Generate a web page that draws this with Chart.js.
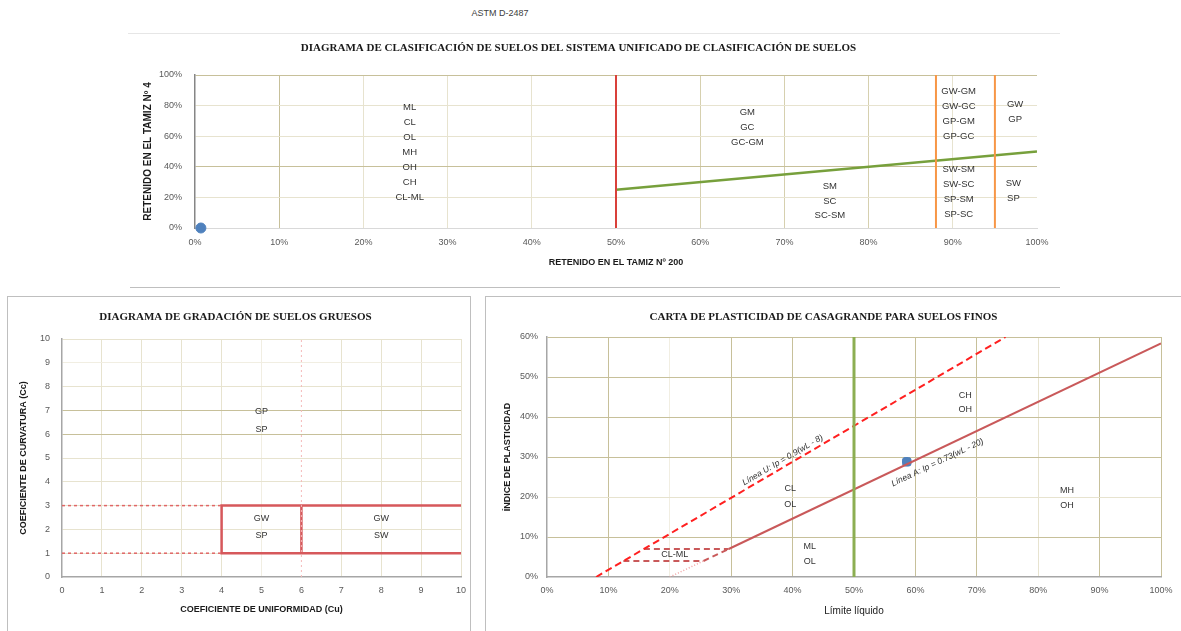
<!DOCTYPE html>
<html>
<head>
<meta charset="utf-8">
<script src="https://cdn.jsdelivr.net/npm/chart.js@4/dist/chart.umd.min.js"></script>
<style>
  html, body { margin: 0; padding: 0; background: #fff; }
  body { width: 1181px; height: 631px; overflow: hidden; position: relative; font-family: "Liberation Sans", Arial, sans-serif; }
  .abs { position: absolute; }
  .rule { position: absolute; height: 0; }
  .panel { position: absolute; border: 1px solid #BFBFBF; box-sizing: border-box; }
  canvas { position: absolute; display: block; }
</style>
</head>
<body>
<div class="abs" style="left:440px;top:8px;width:120px;text-align:center;font-size:9px;color:#404040;">ASTM D-2487</div>
<div class="rule" style="left:128px;top:33px;width:932px;border-top:1px solid #E6E6E6;"></div>
<div class="rule" style="left:130px;top:287px;width:930px;border-top:1px solid #BFBFBF;"></div>
<div class="panel" style="left:7px;top:296px;width:464px;height:345px;"></div>
<div class="panel" style="left:485px;top:296px;width:705px;height:345px;"></div>

<canvas id="uscs" width="940" height="260" style="left:120px;top:30px;"></canvas>
<canvas id="gradacion" width="458" height="334" style="left:10px;top:297px;"></canvas>
<canvas id="casagrande" width="693" height="334" style="left:486px;top:297px;"></canvas>

<script>
// ---------- Diagrama USCS: % retenido en tamiz Nº 200 (x) vs Nº 4 (y) ----------
const uscsXTicks = [0, 10, 20, 30, 40, 50, 60, 70, 80, 90, 100];
const uscsYTicks = [0, 20, 40, 60, 80, 100];
const limiteGruesosFinos = [{ x: 50, y: 0 }, { x: 50, y: 100 }];
const limiteFinos12 = [{ x: 88, y: 0 }, { x: 88, y: 100 }];
const limiteFinos5 = [{ x: 95, y: 0 }, { x: 95, y: 100 }];
const lineaGravaArena = [{ x: 50, y: 25 }, { x: 100, y: 50 }];
const muestraUSCS = [{ x: 0.7, y: 0 }];

const zonaFinos = ['ML', 'CL', 'OL', 'MH', 'OH', 'CH', 'CL-ML'];
const zonaGravasFinas = ['GM', 'GC', 'GC-GM'];
const zonaArenasFinas = ['SM', 'SC', 'SC-SM'];
const zonaGravasDuales = ['GW-GM', 'GW-GC', 'GP-GM', 'GP-GC'];
const zonaArenasDuales = ['SW-SM', 'SW-SC', 'SP-SM', 'SP-SC'];
const zonaGravasLimpias = ['GW', 'GP'];
const zonaArenasLimpias = ['SW', 'SP'];

// ---------- Diagrama de gradación: Cu (x) vs Cc (y) ----------
const gradTicks = [0, 1, 2, 3, 4, 5, 6, 7, 8, 9, 10];
const bordeBienGradado = [{ x: 10, y: 3 }, { x: 4, y: 3 }, { x: 4, y: 1 }, { x: 10, y: 1 }];
const divisionCu6 = [{ x: 6, y: 1 }, { x: 6, y: 3 }];
const guiaCc3 = [{ x: 0, y: 3 }, { x: 4, y: 3 }];
const guiaCc1 = [{ x: 0, y: 1 }, { x: 4, y: 1 }];
const guiaCu6 = [{ x: 6, y: 0 }, { x: 6, y: 10 }];
const textoMalGradado = ['GP', 'SP'];
const textoCu4a6 = ['GW', 'SP'];
const textoCuMayor6 = ['GW', 'SW'];

// ---------- Carta de plasticidad: LL (x) vs IP (y) ----------
const casaXTicks = [0, 10, 20, 30, 40, 50, 60, 70, 80, 90, 100];
const casaYTicks = [0, 10, 20, 30, 40, 50, 60];
const lineaU = [{ x: 8, y: 0 }, { x: 74.67, y: 60 }];
const lineaA = [{ x: 29.59, y: 7 }, { x: 100, y: 58.4 }];
const lineaATramo = [{ x: 25.48, y: 4 }, { x: 29.59, y: 7 }];
const lineaAPunteada = [{ x: 20, y: 0 }, { x: 25.48, y: 4 }];
const clmlSuperior = [{ x: 15.78, y: 7 }, { x: 29.59, y: 7 }];
const clmlInferior = [{ x: 12.44, y: 4 }, { x: 25.48, y: 4 }];
const limiteLL50 = [{ x: 50, y: 0 }, { x: 50, y: 60 }];
const muestraCasa = [{ x: 58.6, y: 28.8 }];
const textoCH = ['CH', 'OH'];
const textoCL = ['CL', 'OL'];
const textoML = ['ML', 'OL'];
const textoMH = ['MH', 'OH'];
const textoCLML = ['CL-ML'];
const rotuloU = 'Línea U: Ip = 0.9(wL - 8)';
const rotuloA = 'Línea A: Ip = 0.73(wL - 20)';

// ---------- Estilos comunes ----------
const OLIVA_OSC = '#C7C09A';
const OLIVA_MED = '#D6D0AF';
const OLIVA_CLA = '#E7E3CF';
const OLIVA_TEN = '#F1EEE2';
const FUENTE = '"Liberation Sans", Arial, sans-serif';
const SERIF = '"Liberation Serif", "DejaVu Serif", serif';

function gridColor(map, fallback) {
  return ctx => {
    const v = ctx.tick ? ctx.tick.value : null;
    return (v in map) ? map[v] : fallback;
  };
}
// Fixed axis sizes so the plot areas keep their place; edge-label padding is dropped
function fixedWidth(w) { return s => { s.width = w; s.paddingTop = 0; s.paddingBottom = 0; }; }
function fixedHeight(h) { return s => { s.height = h; s.paddingLeft = 0; s.paddingRight = 0; }; }

function lineSet(data, color, width, dash) {
  return { data, showLine: true, borderColor: color, borderWidth: width, borderDash: dash || [],
           pointRadius: 0, pointHoverRadius: 0, fill: false, tension: 0 };
}
function pointSet(data, style, r) {
  return { data, showLine: false, pointRadius: r, pointStyle: style, backgroundColor: '#4F81BD',
           borderColor: '#4F81BD', borderWidth: 1, clip: false };
}

// Text groups and slanted captions placed with the chart's own scales
const zoneLabels = {
  id: 'zoneLabels',
  afterDatasetsDraw(chart, args, opts) {
    const { ctx, scales: { x, y } } = chart;
    ctx.save();
    ctx.fillStyle = opts.color || '#333333';
    ctx.textAlign = 'center';
    ctx.textBaseline = 'middle';
    ctx.font = opts.font;
    (opts.groups || []).forEach(g => {
      const px = x.getPixelForValue(g.x), py = y.getPixelForValue(g.y);
      g.lines.forEach((t, i) => ctx.fillText(t, px, py + i * (g.gap || opts.gap)));
    });
    (opts.slanted || []).forEach(s => {
      const ax = x.getPixelForValue(s.along[0].x), ay = y.getPixelForValue(s.along[0].y);
      const bx = x.getPixelForValue(s.along[1].x), by = y.getPixelForValue(s.along[1].y);
      const ang = Math.atan2(by - ay, bx - ax);
      ctx.save();
      ctx.translate(x.getPixelForValue(s.x), y.getPixelForValue(s.y));
      ctx.rotate(ang);
      ctx.font = s.font;
      ctx.fillText(s.text, 0, 0);
      ctx.restore();
    });
    ctx.restore();
  }
};
Chart.register(zoneLabels);

const tickFont = { family: FUENTE, size: 9 };
const axisTitleFont = { family: FUENTE, size: 9, weight: 'bold' };

// ================= Diagrama USCS =================
new Chart(document.getElementById('uscs'), {
  type: 'scatter',
  data: {
    datasets: [
      lineSet(limiteGruesosFinos, '#D9403A', 2),
      lineSet(limiteFinos12, '#F79646', 2),
      lineSet(limiteFinos5, '#F79646', 2),
      lineSet(lineaGravaArena, '#77A03C', 2.5),
      pointSet(muestraUSCS, 'circle', 5)
    ]
  },
  options: {
    responsive: false, animation: false,
    layout: { padding: { left: 0, right: 23, top: 0, bottom: 0 }, autoPadding: false },
    plugins: {
      legend: { display: false }, tooltip: { enabled: false },
      title: { display: true, text: 'DIAGRAMA DE CLASIFICACIÓN DE SUELOS DEL SISTEMA UNIFICADO DE CLASIFICACIÓN DE SUELOS',
               font: { family: SERIF, size: 11, weight: 'bold' }, color: '#1A1A1A',
               padding: { top: 11.4, bottom: 20.4 } },
      zoneLabels: {
        font: '9.5px ' + FUENTE, gap: 15,
        groups: [
          { x: 25.5, y: 79, lines: zonaFinos },
          { x: 65.6, y: 75.5, lines: zonaGravasFinas },
          { x: 75.4, y: 27, lines: zonaArenasFinas, gap: 14.5 },
          { x: 90.7, y: 89.5, lines: zonaGravasDuales },
          { x: 90.7, y: 38.5, lines: zonaArenasDuales },
          { x: 97.4, y: 80.5, lines: zonaGravasLimpias },
          { x: 97.2, y: 29, lines: zonaArenasLimpias }
        ]
      }
    },
    scales: {
      x: {
        type: 'linear', min: 0, max: 100,
        afterFit: fixedHeight(62),
        afterBuildTicks: s => { s.ticks = uscsXTicks.map(v => ({ value: v })); },
        ticks: { font: tickFont, color: '#595959', padding: 9.5, callback: v => v + '%' },
        grid: { drawTicks: false, lineWidth: 1,
                color: gridColor({ 0: 'rgba(0,0,0,0)', 10: OLIVA_OSC, 60: OLIVA_MED, 70: OLIVA_MED, 80: OLIVA_MED, 100: 'rgba(0,0,0,0)' }, OLIVA_CLA) },
        border: { display: true, color: '#D9D9D9', width: 1 },
        title: { display: true, text: 'RETENIDO EN EL TAMIZ Nº 200', font: axisTitleFont, color: '#1A1A1A',
                 padding: { top: 0, bottom: 21.6 } }
      },
      y: {
        type: 'linear', min: 0, max: 100,
        afterFit: fixedWidth(75),
        afterBuildTicks: s => { s.ticks = uscsYTicks.map(v => ({ value: v })); },
        ticks: { font: tickFont, color: '#595959', padding: 13, callback: v => v + '%' },
        grid: { drawTicks: false, lineWidth: 1,
                color: gridColor({ 0: 'rgba(0,0,0,0)', 40: OLIVA_OSC, 100: OLIVA_OSC }, OLIVA_CLA) },
        border: { display: true, color: '#868686', width: 1.5 },
        title: { display: true, text: 'RETENIDO EN EL TAMIZ Nº 4', font: { family: FUENTE, size: 10, weight: 'bold' },
                 color: '#1A1A1A', padding: { top: 22, bottom: 0 } }
      }
    }
  }
});

// ================= Diagrama de gradación =================
new Chart(document.getElementById('gradacion'), {
  type: 'scatter',
  data: {
    datasets: [
      lineSet(guiaCu6, '#F4B9B9', 1, [2, 3]),
      lineSet(guiaCc3, '#E06666', 1.5, [3, 3]),
      lineSet(guiaCc1, '#E06666', 1.5, [3, 3]),
      lineSet(bordeBienGradado, '#D6585B', 2.5),
      lineSet(divisionCu6, '#D6585B', 2.5)
    ]
  },
  options: {
    responsive: false, animation: false,
    layout: { padding: { left: 0, right: 7, top: 0, bottom: 0 }, autoPadding: false },
    plugins: {
      legend: { display: false }, tooltip: { enabled: false },
      title: { display: true, text: 'DIAGRAMA DE GRADACIÓN DE SUELOS GRUESOS',
               font: { family: SERIF, size: 11, weight: 'bold' }, color: '#1A1A1A',
               padding: { top: 13.4, bottom: 15.4 } },
      zoneLabels: {
        font: '9px ' + FUENTE, gap: 17,
        groups: [
          { x: 5, y: 6.97, lines: textoMalGradado, gap: 18 },
          { x: 5, y: 2.44, lines: textoCu4a6 },
          { x: 8, y: 2.44, lines: textoCuMayor6 }
        ]
      }
    },
    scales: {
      x: {
        type: 'linear', min: 0, max: 10,
        afterFit: fixedHeight(54),
        afterBuildTicks: s => { s.ticks = gradTicks.map(v => ({ value: v })); },
        ticks: { font: tickFont, color: '#595959', padding: 8.6 },
        grid: { drawTicks: false, color: gridColor({ 0: 'rgba(0,0,0,0)', 5: OLIVA_TEN, 6: 'rgba(0,0,0,0)' }, OLIVA_CLA) },
        border: { display: true, color: '#A6A6A6', width: 1.5 },
        title: { display: true, text: 'COEFICIENTE DE UNIFORMIDAD (Cu)', font: axisTitleFont, color: '#1A1A1A',
                 padding: { top: 0, bottom: 15.6 } }
      },
      y: {
        type: 'linear', min: 0, max: 10,
        afterFit: fixedWidth(52),
        afterBuildTicks: s => { s.ticks = gradTicks.map(v => ({ value: v })); },
        ticks: { font: tickFont, color: '#595959', padding: 12 },
        grid: { drawTicks: false, color: gridColor({ 0: 'rgba(0,0,0,0)', 6: OLIVA_OSC, 7: OLIVA_OSC, 9: OLIVA_TEN }, OLIVA_CLA) },
        border: { display: true, color: '#A6A6A6', width: 1.5 },
        title: { display: true, text: 'COEFICIENTE DE CURVATURA (Cc)', font: axisTitleFont, color: '#1A1A1A',
                 padding: { top: 8, bottom: 0 } }
      }
    }
  }
});

// ================= Carta de plasticidad de Casagrande =================
new Chart(document.getElementById('casagrande'), {
  type: 'scatter',
  data: {
    datasets: [
      lineSet(limiteLL50, '#8CAE52', 3),
      lineSet(lineaU, '#FF2020', 2, [7, 4]),
      lineSet(lineaAPunteada, '#F0A3A3', 1.5, [1, 2]),
      lineSet(lineaATramo, '#C9595A', 2, [6, 4]),
      lineSet(lineaA, '#C9595A', 2),
      lineSet(clmlSuperior, '#C9595A', 2, [6, 4]),
      lineSet(clmlInferior, '#C9595A', 2, [6, 4]),
      pointSet(muestraCasa, 'rectRounded', 5)
    ]
  },
  options: {
    responsive: false, animation: false,
    layout: { padding: { left: 0, right: 18, top: 0, bottom: 0 }, autoPadding: false },
    plugins: {
      legend: { display: false }, tooltip: { enabled: false },
      title: { display: true, text: 'CARTA DE PLASTICIDAD DE CASAGRANDE PARA SUELOS FINOS',
               font: { family: SERIF, size: 11, weight: 'bold' }, color: '#1A1A1A',
               padding: { top: 13.4, bottom: 13.4 } },
      zoneLabels: {
        font: '9px ' + FUENTE, gap: 15,
        groups: [
          { x: 68.1, y: 45.3, lines: textoCH, gap: 14 },
          { x: 39.6, y: 22.2, lines: textoCL, gap: 16 },
          { x: 42.8, y: 7.5, lines: textoML },
          { x: 84.7, y: 21.7, lines: textoMH },
          { x: 20.8, y: 5.5, lines: textoCLML }
        ],
        slanted: [
          { text: rotuloU, x: 38.4, y: 29.2, along: lineaU, font: 'italic 8.5px ' + FUENTE },
          { text: rotuloA, x: 63.6, y: 28.6, along: lineaA, font: 'italic 8.5px ' + FUENTE }
        ]
      }
    },
    scales: {
      x: {
        type: 'linear', min: 0, max: 100,
        afterFit: fixedHeight(54),
        afterBuildTicks: s => { s.ticks = casaXTicks.map(v => ({ value: v })); },
        ticks: { font: tickFont, color: '#595959', padding: 8.6, callback: v => v + '%' },
        grid: { drawTicks: false,
                color: gridColor({ 0: 'rgba(0,0,0,0)', 20: OLIVA_TEN, 50: 'rgba(0,0,0,0)', 80: OLIVA_CLA }, OLIVA_OSC) },
        border: { display: true, color: '#A6A6A6', width: 1.5 },
        title: { display: true, text: 'Límite líquido', font: { family: FUENTE, size: 10 }, color: '#1A1A1A',
                 padding: { top: 0, bottom: 14 } }
      },
      y: {
        type: 'linear', min: 0, max: 60,
        afterFit: fixedWidth(61),
        afterBuildTicks: s => { s.ticks = casaYTicks.map(v => ({ value: v })); },
        ticks: { font: tickFont, color: '#595959', padding: 9, callback: v => v + '%' },
        grid: { drawTicks: false, color: gridColor({ 0: 'rgba(0,0,0,0)', 20: OLIVA_CLA }, OLIVA_OSC) },
        border: { display: true, color: '#A6A6A6', width: 1.5 },
        title: { display: true, text: 'ÍNDICE DE PLASTICIDAD', font: axisTitleFont, color: '#1A1A1A',
                 padding: { top: 16.6, bottom: 0 } }
      }
    }
  }
});
</script>
</body>
</html>
